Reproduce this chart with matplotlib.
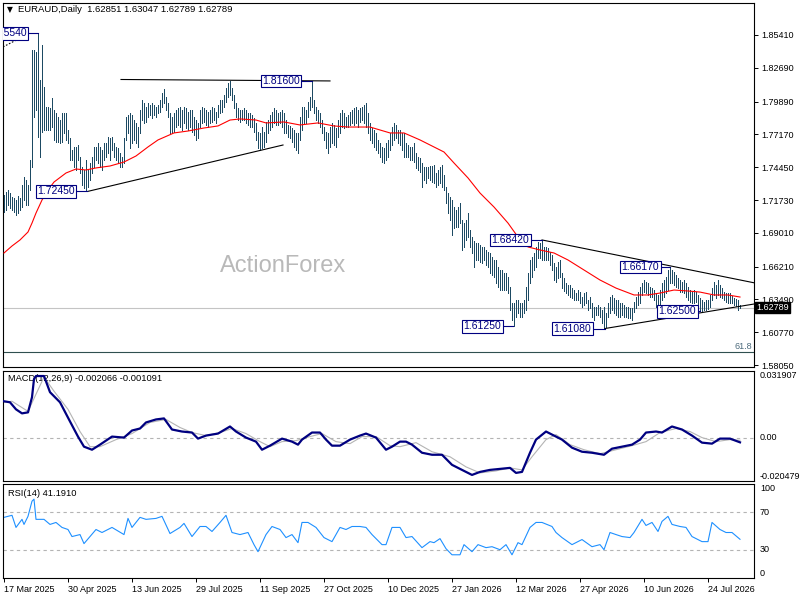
#encoding=utf-8

import numpy as np
import matplotlib
matplotlib.use('Agg')
from matplotlib import pyplot as plt
from matplotlib import transforms

plt.rcParams['font.family'] = ['Liberation Sans', 'DejaVu Sans']

W, H = 800, 600

# daily bars (one per trading day)
highs = [
    1.7215, 1.7240, 1.7256, 1.7231, 1.7198, 1.7190, 1.7173, 1.7206, 1.7190, 1.7297,
    1.7364, 1.7339, 1.7297, 1.7505, 1.8417, 1.8417, 1.8400, 1.8554, 1.8168, 1.8458,
    1.8110, 1.7944, 1.7944, 1.7936, 1.8019, 1.7919, 1.7894, 1.7861, 1.7836, 1.7894,
    1.7894, 1.7894, 1.7754, 1.7687, 1.7588, 1.7613, 1.7613, 1.7629, 1.7530, 1.7447,
    1.7422, 1.7505, 1.7422, 1.7480, 1.7530, 1.7613, 1.7613, 1.7646, 1.7613, 1.7588,
    1.7646, 1.7646, 1.7695, 1.7687, 1.7695, 1.7646, 1.7613, 1.7604, 1.7563, 1.7530,
    1.7687, 1.7861, 1.7878, 1.7894, 1.7878, 1.7836, 1.7812, 1.7778, 1.7919, 1.8002,
    1.7977, 1.7944, 1.7977, 1.7961, 1.7977, 1.7961, 1.7944, 1.7961, 1.8002, 1.8060,
    1.8093, 1.8027, 1.7977, 1.7894, 1.7861, 1.7894, 1.7919, 1.7936, 1.7944, 1.7919,
    1.7944, 1.7936, 1.7903, 1.7919, 1.7919, 1.7861, 1.7836, 1.7812, 1.7919, 1.7944,
    1.7936, 1.7919, 1.7903, 1.7919, 1.7944, 1.7936, 1.7903, 1.7961, 1.8002, 1.8002,
    1.8044, 1.8102, 1.8143, 1.8160, 1.8102, 1.8044, 1.7977, 1.7936, 1.7919, 1.7919,
    1.7936, 1.7919, 1.7894, 1.7894, 1.7878, 1.7853, 1.7812, 1.7737, 1.7729, 1.7778,
    1.7737, 1.7820, 1.7836, 1.7878, 1.7903, 1.7936, 1.7919, 1.7894, 1.7903, 1.7919,
    1.7894, 1.7836, 1.7795, 1.7787, 1.7770, 1.7754, 1.7729, 1.7729, 1.7861, 1.7944,
    1.7944, 1.7919, 1.7986, 1.8027, 1.8160, 1.8002, 1.7944, 1.7919, 1.7894, 1.7836,
    1.7778, 1.7737, 1.7729, 1.7778, 1.7812, 1.7795, 1.7770, 1.7836, 1.7894, 1.7919,
    1.7894, 1.7861, 1.7878, 1.7903, 1.7919, 1.7936, 1.7944, 1.7919, 1.7936, 1.7944,
    1.7961, 1.7977, 1.7894, 1.7812, 1.7770, 1.7754, 1.7729, 1.7671, 1.7646, 1.7613,
    1.7604, 1.7646, 1.7671, 1.7729, 1.7778, 1.7812, 1.7795, 1.7754, 1.7754, 1.7729,
    1.7729, 1.7646, 1.7629, 1.7613, 1.7613, 1.7646, 1.7563, 1.7530, 1.7521, 1.7480,
    1.7447, 1.7447, 1.7447, 1.7455, 1.7455, 1.7463, 1.7397, 1.7422, 1.7447, 1.7463,
    1.7380, 1.7281, 1.7231, 1.7198, 1.7173, 1.7115, 1.7090, 1.7115, 1.7148, 1.7007,
    1.6982, 1.7007, 1.7065, 1.6924, 1.6866, 1.6833, 1.6817, 1.6817, 1.6800, 1.6784,
    1.6784, 1.6759, 1.6742, 1.6734, 1.6701, 1.6676, 1.6676, 1.6617, 1.6593, 1.6593,
    1.6568, 1.6568, 1.6535, 1.6452, 1.6319, 1.6319, 1.6344, 1.6344, 1.6319, 1.6319,
    1.6344, 1.6452, 1.6568, 1.6676, 1.6701, 1.6734, 1.6784, 1.6825, 1.6817, 1.6842,
    1.6784, 1.6784, 1.6775, 1.6742, 1.6717, 1.6651, 1.6617, 1.6659, 1.6676, 1.6568,
    1.6526, 1.6485, 1.6468, 1.6468, 1.6443, 1.6427, 1.6402, 1.6427, 1.6410, 1.6369,
    1.6402, 1.6410, 1.6344, 1.6369, 1.6319, 1.6286, 1.6286, 1.6302, 1.6286, 1.6261,
    1.6286, 1.6236, 1.6319, 1.6369, 1.6386, 1.6361, 1.6344, 1.6344, 1.6319, 1.6319,
    1.6302, 1.6286, 1.6286, 1.6278, 1.6278, 1.6327, 1.6369, 1.6410, 1.6452, 1.6485,
    1.6510, 1.6493, 1.6485, 1.6452, 1.6443, 1.6427, 1.6402, 1.6386, 1.6427, 1.6485,
    1.6510, 1.6535, 1.6593, 1.6617, 1.6593, 1.6576, 1.6551, 1.6526, 1.6510, 1.6493,
    1.6510, 1.6485, 1.6452, 1.6427, 1.6410, 1.6427, 1.6410, 1.6386, 1.6361, 1.6344,
    1.6327, 1.6344, 1.6344, 1.6386, 1.6443, 1.6493, 1.6468, 1.6510, 1.6468, 1.6443,
    1.6410, 1.6402, 1.6402, 1.6402, 1.6377, 1.6361, 1.6352, 1.6344, 1.6305]
lows = [
    1.7074, 1.7090, 1.7132, 1.7107, 1.7090, 1.7074, 1.7049, 1.7065, 1.7090, 1.7115,
    1.7173, 1.7132, 1.7132, 1.7256, 1.7447, 1.7861, 1.7919, 1.7695, 1.7530, 1.7737,
    1.7754, 1.7754, 1.7754, 1.7754, 1.7778, 1.7671, 1.7654, 1.7654, 1.7646, 1.7654,
    1.7729, 1.7671, 1.7646, 1.7505, 1.7505, 1.7447, 1.7422, 1.7505, 1.7397, 1.7297,
    1.7273, 1.7245, 1.7281, 1.7339, 1.7397, 1.7447, 1.7505, 1.7480, 1.7447, 1.7422,
    1.7505, 1.7530, 1.7563, 1.7505, 1.7588, 1.7530, 1.7505, 1.7480, 1.7447, 1.7447,
    1.7480, 1.7671, 1.7729, 1.7604, 1.7646, 1.7671, 1.7646, 1.7613, 1.7729, 1.7836,
    1.7812, 1.7820, 1.7861, 1.7878, 1.7853, 1.7878, 1.7861, 1.7894, 1.7903, 1.7944,
    1.7977, 1.7919, 1.7861, 1.7729, 1.7729, 1.7737, 1.7778, 1.7795, 1.7778, 1.7754,
    1.7812, 1.7770, 1.7754, 1.7778, 1.7737, 1.7712, 1.7671, 1.7687, 1.7778, 1.7812,
    1.7820, 1.7795, 1.7778, 1.7812, 1.7820, 1.7836, 1.7812, 1.7861, 1.7894, 1.7903,
    1.7944, 1.7986, 1.8027, 1.8044, 1.8002, 1.7936, 1.7861, 1.7836, 1.7820, 1.7836,
    1.7836, 1.7812, 1.7795, 1.7778, 1.7778, 1.7737, 1.7671, 1.7604, 1.7588, 1.7604,
    1.7613, 1.7654, 1.7729, 1.7754, 1.7778, 1.7812, 1.7795, 1.7795, 1.7812, 1.7778,
    1.7729, 1.7729, 1.7695, 1.7687, 1.7654, 1.7613, 1.7588, 1.7563, 1.7671, 1.7754,
    1.7812, 1.7812, 1.7861, 1.7919, 1.7944, 1.7894, 1.7836, 1.7812, 1.7778, 1.7729,
    1.7671, 1.7604, 1.7563, 1.7613, 1.7646, 1.7629, 1.7613, 1.7695, 1.7729, 1.7778,
    1.7770, 1.7778, 1.7778, 1.7795, 1.7812, 1.7795, 1.7812, 1.7778, 1.7820, 1.7836,
    1.7812, 1.7778, 1.7729, 1.7671, 1.7646, 1.7613, 1.7588, 1.7563, 1.7530, 1.7488,
    1.7480, 1.7505, 1.7530, 1.7588, 1.7629, 1.7671, 1.7687, 1.7646, 1.7629, 1.7588,
    1.7530, 1.7530, 1.7530, 1.7505, 1.7505, 1.7488, 1.7439, 1.7422, 1.7405, 1.7281,
    1.7339, 1.7314, 1.7356, 1.7339, 1.7322, 1.7314, 1.7281, 1.7297, 1.7314, 1.7281,
    1.7256, 1.7148, 1.7065, 1.7007, 1.6883, 1.6941, 1.6949, 1.6949, 1.6982, 1.6759,
    1.6784, 1.6842, 1.6866, 1.6784, 1.6734, 1.6617, 1.6676, 1.6676, 1.6659, 1.6651,
    1.6676, 1.6634, 1.6617, 1.6568, 1.6551, 1.6535, 1.6485, 1.6452, 1.6427, 1.6427,
    1.6427, 1.6427, 1.6402, 1.6261, 1.6178, 1.6125, 1.6203, 1.6236, 1.6203, 1.6203,
    1.6236, 1.6261, 1.6344, 1.6485, 1.6535, 1.6593, 1.6617, 1.6692, 1.6692, 1.6676,
    1.6676, 1.6676, 1.6676, 1.6634, 1.6593, 1.6510, 1.6493, 1.6526, 1.6535, 1.6443,
    1.6419, 1.6402, 1.6386, 1.6369, 1.6361, 1.6344, 1.6344, 1.6344, 1.6319, 1.6286,
    1.6302, 1.6319, 1.6261, 1.6278, 1.6203, 1.6178, 1.6220, 1.6220, 1.6203, 1.6154,
    1.6108, 1.6120, 1.6203, 1.6236, 1.6261, 1.6236, 1.6220, 1.6203, 1.6203, 1.6220,
    1.6203, 1.6203, 1.6195, 1.6195, 1.6178, 1.6245, 1.6278, 1.6302, 1.6319, 1.6386,
    1.6410, 1.6402, 1.6386, 1.6369, 1.6369, 1.6344, 1.6286, 1.6261, 1.6302, 1.6344,
    1.6369, 1.6402, 1.6427, 1.6485, 1.6485, 1.6468, 1.6452, 1.6443, 1.6410, 1.6410,
    1.6402, 1.6369, 1.6344, 1.6327, 1.6319, 1.6319, 1.6327, 1.6278, 1.6250, 1.6255,
    1.6258, 1.6262, 1.6268, 1.6286, 1.6344, 1.6386, 1.6361, 1.6386, 1.6369, 1.6361,
    1.6344, 1.6327, 1.6319, 1.6319, 1.6319, 1.6302, 1.6294, 1.6261, 1.6279]

# red moving average, sampled along the line
ma_idx = [0, 4, 8, 12, 14, 16, 19, 22, 25, 31, 36, 41, 46, 53, 60, 66, 72, 77, 85, 92,
          100, 107, 113, 118, 126, 131, 140, 148, 157, 165, 172, 183, 193, 200, 208, 220,
          225, 232, 238, 245, 252, 257, 262, 268, 275, 282, 290, 298, 306, 315, 322, 328,
          335, 342, 348, 355, 362, 368]
ma_val = [1.6734, 1.6792, 1.6842, 1.6908, 1.6982, 1.7065, 1.7173, 1.7256, 1.7322, 1.7397,
          1.7430, 1.7422, 1.7439, 1.7455, 1.7488, 1.7538, 1.7613, 1.7671, 1.7729, 1.7745,
          1.7770, 1.7787, 1.7836, 1.7845, 1.7836, 1.7812, 1.7820, 1.7795, 1.7812, 1.7787,
          1.7778, 1.7778, 1.7729, 1.7729, 1.7671, 1.7571, 1.7480, 1.7356, 1.7231, 1.7115,
          1.6982, 1.6866, 1.6784, 1.6759, 1.6734, 1.6676, 1.6593, 1.6510, 1.6443, 1.6386,
          1.6386, 1.6402, 1.6427, 1.6419, 1.6410, 1.6386, 1.6386, 1.6369]

# MACD(12,26,9) main and signal
macd_idx = [0, 3, 6, 9, 12, 14, 15, 16, 20, 23, 28, 33, 37, 40, 44, 48, 54, 60, 64, 68,
            71, 76, 80, 84, 89, 94, 97, 101, 107, 113, 116, 121, 126, 129, 133, 139, 144,
            147, 149, 154, 158, 161, 164, 168, 173, 178, 181, 186, 191, 194, 198, 201, 204,
            209, 214, 219, 224, 229, 234, 238, 243, 248, 253, 256, 259, 263, 266, 271, 274,
            279, 284, 289, 294, 300, 304, 309, 314, 318, 321, 326, 329, 334, 339, 344, 349,
            354, 358, 363, 368]
macd_val = [0.01749, 0.01701, 0.01365, 0.01173, 0.01221, 0.01942, 0.02807, 0.02951, 0.02951,
            0.02182, 0.01701, 0.00788, 0.00067, -0.00413, -0.00558, -0.00317, 0.00067,
            0.00019, 0.00356, 0.00452, 0.00740, 0.00884, 0.00932, 0.00404, 0.00308, 0.00260,
            -0.00029, 0.00115, 0.00211, 0.00548, 0.00308, 0.00019, -0.00173, -0.00558,
            -0.00365, -0.00029, -0.00173, -0.00317, -0.00077, 0.00260, 0.00260, -0.00077,
            -0.00365, -0.00365, -0.00077, 0.00115, 0.00211, 0.00019, -0.00558, -0.00413,
            -0.00173, -0.00173, -0.00317, -0.00702, -0.00798, -0.00798, -0.01278, -0.01519,
            -0.01759, -0.01615, -0.01519, -0.01471, -0.01423, -0.01663, -0.01615, -0.00702,
            -0.00077, 0.00308, 0.00163, -0.00077, -0.00461, -0.00654, -0.00702, -0.00798,
            -0.00509, -0.00413, -0.00317, -0.00077, 0.00260, 0.00308, 0.00260, 0.00548,
            0.00404, 0.00115, -0.00221, -0.00269, -0.00029, -0.00029, -0.002066]
sig_idx = [0, 4, 12, 20, 25, 32, 38, 43, 48, 56, 64, 73, 81, 88, 94, 101, 108, 114, 121,
           128, 133, 139, 146, 153, 159, 166, 173, 179, 186, 193, 198, 206, 214, 223, 231,
           238, 246, 253, 259, 264, 271, 276, 283, 290, 298, 306, 314, 321, 328, 336, 343,
           349, 356, 363, 368]
sig_val = [0.01701, 0.01749, 0.01269, 0.02903, 0.02230, 0.01365, 0.00308, -0.00413, -0.00413,
           -0.00077, 0.00211, 0.00740, 0.00884, 0.00500, 0.00260, 0.00115, 0.00260, 0.00452,
           0.00211, -0.00173, -0.00413, -0.00173, -0.00125, 0.00067, 0.00211, -0.00173,
           -0.00269, 0.00067, 0.00067, -0.00365, -0.00413, -0.00221, -0.00654, -0.00894,
           -0.01375, -0.01663, -0.01567, -0.01423, -0.01519, -0.00894, -0.00077, 0.00163,
           -0.00317, -0.00558, -0.00750, -0.00558, -0.00365, -0.00173, 0.00260, 0.00452,
           0.00308, 0.00019, -0.00173, -0.00077, -0.001091]

# RSI(14)
rsi_idx = [0, 2, 4, 6, 9, 10, 12, 14, 15, 16, 20, 23, 26, 29, 32, 34, 38, 40, 43, 46,
           49, 54, 60, 62, 64, 68, 71, 76, 79, 83, 88, 90, 94, 98, 101, 104, 108, 111, 114,
           118, 122, 125, 127, 131, 134, 138, 141, 144, 147, 149, 152, 156, 160, 164, 168,
           171, 174, 178, 181, 184, 189, 191, 194, 198, 201, 204, 209, 213, 215, 218, 221,
           224, 228, 230, 234, 237, 241, 244, 248, 251, 254, 257, 259, 263, 266, 269, 274,
           276, 279, 284, 289, 294, 298, 300, 303, 306, 309, 313, 315, 319, 321, 324, 327,
           329, 332, 334, 338, 341, 344, 349, 352, 354, 358, 361, 364, 368]
rsi_val = [64.5, 65.6, 66.7, 53.8, 62.4, 57.0, 65.6, 81.7, 83.9, 62.4, 62.4, 57.0, 59.1,
           53.8, 51.6, 44.1, 46.2, 36.6, 44.1, 51.6, 48.4, 53.8, 46.2, 63.4, 53.8, 64.5,
           62.4, 63.4, 65.6, 47.3, 53.8, 58.1, 44.1, 54.8, 54.8, 49.5, 59.1, 66.7, 48.4,
           46.2, 48.4, 35.5, 28.0, 46.2, 54.8, 51.6, 43.0, 46.2, 37.6, 59.1, 59.1, 53.8,
           43.0, 38.7, 53.8, 51.6, 54.8, 54.8, 53.8, 46.2, 35.5, 35.5, 53.8, 53.8, 43.0,
           44.1, 32.3, 38.7, 37.6, 41.9, 31.2, 24.7, 24.7, 35.5, 28.0, 35.5, 32.3, 33.3,
           30.1, 35.5, 24.7, 37.6, 35.5, 53.8, 59.1, 59.1, 54.8, 48.4, 43.0, 35.5, 40.9,
           33.3, 35.5, 30.1, 48.4, 46.2, 44.1, 43.0, 48.4, 62.4, 55.9, 59.1, 49.5, 60.2,
           65.6, 57.0, 54.8, 53.8, 44.1, 38.7, 38.7, 59.1, 51.6, 48.4, 48.4, 41.19]

date_idx = [0, 32, 64, 96, 128, 160, 192, 224, 256, 288, 320, 352]
date_labels = ['17 Mar 2025', '30 Apr 2025', '13 Jun 2025', '29 Jul 2025', '11 Sep 2025',
               '27 Oct 2025', '10 Dec 2025', '27 Jan 2026', '12 Mar 2026', '27 Apr 2026',
               '10 Jun 2026', '24 Jul 2026']
price_ticks = [1.85410, 1.82690, 1.79890, 1.77170, 1.74450, 1.71730, 1.69010, 1.66210,
               1.63490, 1.60770, 1.58050]

# swing labels: value, bar of the swing, bar where the label box sits
swing_vals = [1.8554, 1.8160, 1.7245, 1.6842, 1.6125, 1.6108, 1.6617, 1.6250]
swing_bar = [17, 154, 41.5, 269, 254.5, 300.5, 333, 348]
box_bar = [2.0, 138.5, 26, 253.25, 239.25, 284.25, 318.25, 336.75]

last_price = 1.62789
fib_618 = 1.5913

BAR = '#1d4a63'
NAVY = '#000080'


def px_rect(l, t, r, b):
    return [l / W, 1 - b / H, (r - l) / W, (b - t) / H]


fig = plt.figure(figsize=(8, 6), dpi=100)
fig.patch.set_facecolor('white')
ax = fig.add_axes(px_rect(3, 3, 754, 367))
ax2 = fig.add_axes(px_rect(3, 371, 754, 481))
ax3 = fig.add_axes(px_rect(3, 484, 754, 578))

for a in (ax, ax2, ax3):
    a.set_xlim(-0.5, 375)
    for s in a.spines.values():
        s.set_linewidth(0.8)
        s.set_color('black')
    a.tick_params(axis='x', bottom=False, labelbottom=False)
    a.tick_params(axis='y', left=False, labelleft=False)

# ---- price panel
ax.set_ylim(1.5789, 1.8806)
ax.text(0.373, 0.2775, 'ActionForex', transform=ax.transAxes, fontsize=17,
        color='#b9b9b9', ha='center', va='center', zorder=0)
ax.axhline(last_price, color='#c4c4c4', lw=0.8, zorder=1)
ax.axhline(fib_618, color='#2f4f4f', lw=0.8, zorder=1)
ytr = transforms.blended_transform_factory(ax.transAxes, ax.transData)
ax.text(0.997, fib_618 + 0.0045, '61.8', transform=ytr, ha='right', va='center',
        fontsize=6.5, color='#4d6b7d')

idx = np.arange(len(highs))
ax.vlines(idx, lows, highs, colors=BAR, lw=0.6, antialiased=False, zorder=3)
ax.plot(ma_idx, ma_val, color='red', lw=0.8, zorder=4)

# trend lines
ax.plot([58.5, 163], [1.8172, 1.8160], color='black', lw=0.8, zorder=5)
ax.plot([42, 139.5], [1.7245, 1.7629], color='black', lw=0.8, zorder=5)
ax.plot([-0.5, 12], [1.8442, 1.8549], color='black', lw=0.8, ls=(0, (1.5, 1.5)), zorder=5)
ax.plot([269, 375], [1.6842, 1.6487], color='black', lw=0.8, zorder=5)
ax.plot([300.5, 375], [1.6108, 1.6311], color='black', lw=0.8, zorder=5)

for v, sb, bb in zip(swing_vals, swing_bar, box_bar):
    ax.plot([bb, sb], [v, v], color=NAVY, lw=0.8, zorder=5)
    ax.text(bb, v, '%.5f' % v, fontsize=7.5, color=NAVY, ha='center', va='center',
            zorder=6, clip_on=True,
            bbox=dict(boxstyle='square,pad=0.12', fc='white', ec=NAVY, lw=0.8))

ax.yaxis.tick_right()
ax.set_yticks(price_ticks)
ax.set_yticklabels(['%.5f' % p for p in price_ticks])
ax.tick_params(axis='y', right=True, labelright=True, direction='out', length=3,
               width=0.7, labelsize=6.5, pad=2)
ax.text(1.003, last_price, '%.5f' % last_price, transform=ytr, ha='left', va='center',
        fontsize=6.5, color='white', clip_on=False, zorder=7,
        bbox=dict(boxstyle='square,pad=0.12', fc='black', ec='black'))

# ---- MACD panel
ax2.set_ylim(-0.020479, 0.031907)
ax2.axhline(0, color='#b4b4b4', lw=0.8, ls=(0, (3, 3)))
ax2.text(0.006, 0.93, 'MACD(12,26,9) -0.002066 -0.001091', transform=ax2.transAxes,
         fontsize=6.7, ha='left', va='center', zorder=1)
ax2.plot(sig_idx, sig_val, color='#b4b4b4', lw=0.8, zorder=2)
ax2.plot(macd_idx, macd_val, color=NAVY, lw=1.6, zorder=3)
ytr2 = transforms.blended_transform_factory(ax2.transAxes, ax2.transData)
ax2.text(1.008, 0.031907, '0.031907', transform=ytr2, fontsize=6.5, va='top', ha='left')
ax2.text(1.008, 0.0, '0.00', transform=ytr2, fontsize=6.5, va='center', ha='left')
ax2.text(1.008, -0.020479, '-0.020479', transform=ytr2, fontsize=6.5, va='bottom', ha='left')

# ---- RSI panel
ax3.set_ylim(0, 100)
for lvl in (70, 30):
    ax3.axhline(lvl, color='#b4b4b4', lw=0.8, ls=(0, (3, 3)))
ax3.text(0.006, 0.9, 'RSI(14) 41.1910', transform=ax3.transAxes, fontsize=6.7,
         ha='left', va='center')
ax3.plot(rsi_idx, rsi_val, color='#1e90ff', lw=0.8)
ytr3 = transforms.blended_transform_factory(ax3.transAxes, ax3.transData)
for lvl, va in ((100, 'top'), (70, 'center'), (30, 'center'), (0, 'bottom')):
    ax3.text(1.008, lvl, str(lvl), transform=ytr3, fontsize=6.5, va=va, ha='left')

ax3.set_xticks(date_idx)
ax3.set_xticklabels(date_labels, ha='left')
ax3.tick_params(axis='x', bottom=True, labelbottom=True, length=3, width=0.7,
                labelsize=6.5, pad=2)

# header
fig.text(7 / W, 1 - 10 / H, '\u25bc', fontsize=5.5, ha='left', va='center',
         family=['DejaVu Sans'])
fig.text(18 / W, 1 - 10 / H, 'EURAUD,Daily  1.62851 1.63047 1.62789 1.62789',
         fontsize=6.8, ha='left', va='center')

fig.savefig('out.png', dpi=100)
